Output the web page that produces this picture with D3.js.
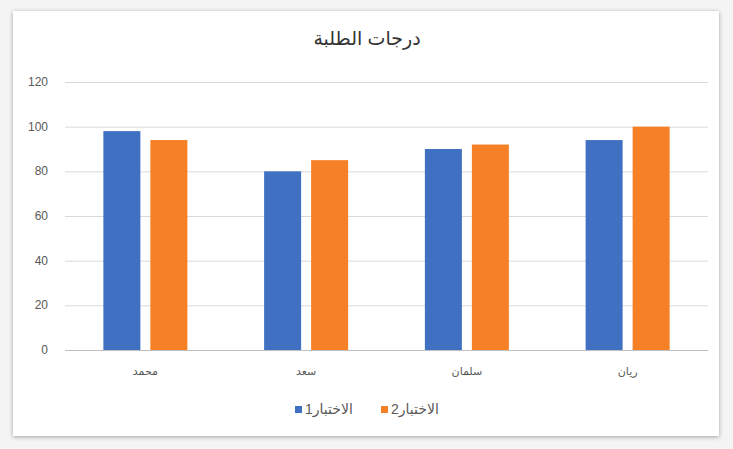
<!DOCTYPE html>
<html><head><meta charset="utf-8">
<script src="https://cdn.jsdelivr.net/npm/d3@7"></script>
<style>
html,body{margin:0;padding:0;background:#f4f4f4;}
svg{display:block;}
text{font-family:"Liberation Sans","DejaVu Sans",sans-serif;}
</style></head>
<body>
<svg id="c" width="733" height="449"></svg>
<script>
const title = "درجات الطلبة";
const categories = ["محمد", "سعد", "سلمان", "ريان"];
const seriesNames = ["الاختبار1", "الاختبار2"];
const test1 = [98, 80, 90, 94];
const test2 = [94, 85, 92, 100];
const yTicks = [0, 20, 40, 60, 80, 100, 120];
const colors = ["#3F70C2", "#F58025"];

const svg = d3.select("#c");
const defs = svg.append("defs");
const f = defs.append("filter").attr("id","sh").attr("x","-5%").attr("y","-5%").attr("width","110%").attr("height","110%");
f.append("feDropShadow").attr("dx",0).attr("dy",1).attr("stdDeviation",2).attr("flood-color","#000").attr("flood-opacity",0.35);

svg.append("rect").attr("x",13).attr("y",11).attr("width",706).attr("height",425).attr("fill","#fff").attr("filter","url(#sh)");

const m = {l:65, r:708, t:82, b:350};
const x = d3.scaleBand().domain(categories).range([m.l, m.r]);
const y = d3.scaleLinear().domain([0,120]).range([m.b, m.t]);

svg.append("text").attr("x",367).attr("y",45).attr("text-anchor","middle")
  .attr("font-size",19).attr("fill","#333").text(title);

const g = svg.append("g");
g.selectAll("line.grid").data(yTicks).join("line")
  .attr("x1",m.l).attr("x2",m.r).attr("y1",d=>y(d)+0.5).attr("y2",d=>y(d)+0.5)
  .attr("stroke",d=>d===0?"#bfbfbf":"#d9d9d9").attr("stroke-width",1);

g.selectAll("text.yt").data(yTicks).join("text")
  .attr("x",48).attr("y",d=>y(d)+4).attr("text-anchor","end")
  .attr("font-size",12).attr("fill","#595959").text(d=>d);

const barW = 37, gap = 10;
const series = [test1, test2];
series.forEach((vals, si) => {
  g.selectAll("rect.s"+si).data(categories).join("rect")
    .attr("x", (c) => x(c) + x.bandwidth()/2 - (barW + gap/2) + si*(barW+gap))
    .attr("y", (c,i) => y(vals[i]))
    .attr("width", barW)
    .attr("height", (c,i) => y(0) - y(vals[i]))
    .attr("fill", colors[si]);
});

g.selectAll("text.xt").data(categories).join("text")
  .attr("x",c=>x(c)+x.bandwidth()/2).attr("y",375).attr("text-anchor","middle")
  .attr("font-size",11).attr("fill","#595959").text(c=>c);

// legend
const lg = svg.append("g");
const legX = [295, 381];
seriesNames.forEach((n,i)=>{
  lg.append("rect").attr("x",legX[i]).attr("y",406).attr("width",7).attr("height",7).attr("fill",colors[i]);
  lg.append("text").attr("x",legX[i]+10).attr("y",414).attr("direction","rtl").attr("text-anchor","end")
    .attr("font-size",14).attr("fill","#595959").text(n);
});
</script>
</body></html>
